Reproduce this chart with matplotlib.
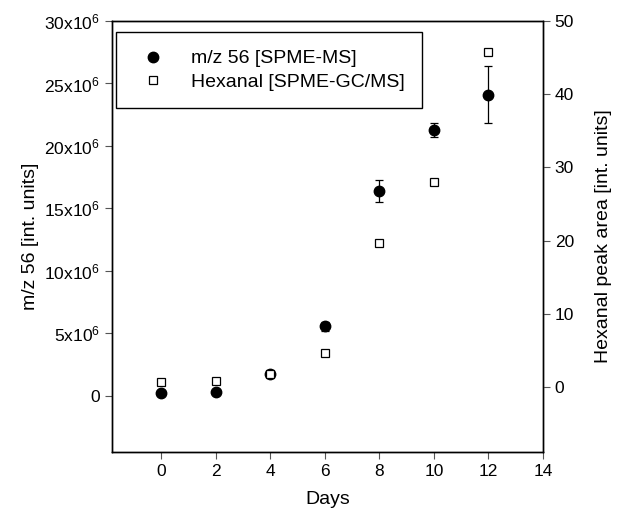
import matplotlib
matplotlib.use("Agg")
import matplotlib.pyplot as plt
from matplotlib.lines import Line2D

plt.rcParams['font.family'] = ['Liberation Sans', 'DejaVu Sans']
plt.rcParams['mathtext.default'] = 'regular'

# Data
days = [0, 2, 4, 6, 8, 10, 12]
mz56 = [0.24e6, 0.32e6, 1.77e6, 5.56e6, 16.4e6, 21.3e6, 24.1e6]
mz56_err = [0.1e6, 0.1e6, 0.15e6, 0.35e6, 0.9e6, 0.55e6, 2.26e6]
hexanal = [0.7, 0.86, 1.8, 4.6, 19.7, 28.0, 45.7]

left_ticks = [0, 5e6, 10e6, 15e6, 20e6, 25e6, 30e6]
left_labels = ['0', '5x10$^{6}$', '10x10$^{6}$', '15x10$^{6}$',
               '20x10$^{6}$', '25x10$^{6}$', '30x10$^{6}$']
right_ticks = [0, 10, 20, 30, 40, 50]
x_ticks = [0, 2, 4, 6, 8, 10, 12, 14]

fig = plt.figure(figsize=(6.17, 5.09), dpi=100)
ax = fig.add_axes([0.1815, 0.112, 0.6985, 0.8467])
ax2 = ax.twinx()

ax.errorbar(days, mz56, yerr=mz56_err, fmt='o', color='black',
            markersize=7.5, capsize=3, elinewidth=0.9, capthick=0.9, zorder=3)
ax2.plot(days, hexanal, 's', markerfacecolor='white',
         markeredgecolor='black', markersize=5.5, markeredgewidth=0.9)

ax.set_xlim(-1.8, 14)
ax.set_ylim(-4.5e6, 30e6)
ax2.set_ylim(-8.9, 50)

ax.set_xticks(x_ticks)
ax.set_yticks(left_ticks)
ax.set_yticklabels(left_labels)
ax2.set_yticks(right_ticks)

for a in (ax, ax2):
    a.tick_params(direction='out', length=5, width=0.8, labelsize=12.5,
                  color='#555555')
    for s in a.spines.values():
        s.set_linewidth(1.0)

ax.set_xlabel('Days', fontsize=14, labelpad=9)
ax.set_ylabel('m/z 56 [int. units]', fontsize=14, labelpad=4)
ax2.set_ylabel('Hexanal peak area [int. units]', fontsize=14, labelpad=15)

# legend handles without error bars
h1 = Line2D([], [], marker='o', linestyle='none', color='black', markersize=7.5)
h2 = Line2D([], [], marker='s', linestyle='none', markerfacecolor='white',
            markeredgecolor='black', markersize=5.5, markeredgewidth=0.9)
leg = ax.legend([h1, h2], ['m/z 56 [SPME-MS]', 'Hexanal [SPME-GC/MS]'],
                loc='upper left', bbox_to_anchor=(0.009, 0.974),
                fontsize=14, fancybox=False, edgecolor='black',
                framealpha=1, borderpad=0.9, handletextpad=0.95,
                labelspacing=0.3, borderaxespad=0, handlelength=2.0)
leg.get_frame().set_linewidth(1.0)

fig.savefig('out.png', dpi=100)
